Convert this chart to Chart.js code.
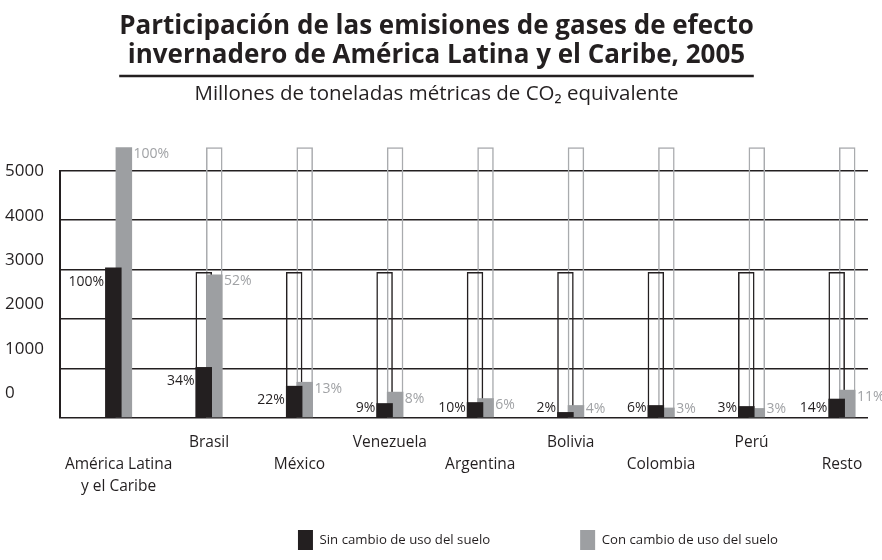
<!DOCTYPE html>
<html lang="es">
<head>
<meta charset="utf-8">
<title>Emisiones de gases de efecto invernadero, 2005</title>
<script src="https://cdn.jsdelivr.net/npm/chart.js@4.4.1/dist/chart.umd.min.js"></script>
<style>
    html, body { margin: 0; padding: 0; background: #fff; }
</style>
</head>
<body>
<canvas id="grafico" width="882" height="560"></canvas>
<script>
// Datos (millones de toneladas métricas de CO2 equivalente)
const paises = [
    ['', 'América Latina', 'y el Caribe'], ['Brasil'], ['', 'México'], ['Venezuela'],
    ['', 'Argentina'], ['Bolivia'], ['', 'Colombia'], ['Perú'], ['', 'Resto']
];
const sinCambio = [3040, 1030, 650, 300, 320, 120, 260, 240, 390];
const conCambio = [5470, 2900, 730, 530, 400, 260, 210, 200, 570];
// barras vacías de referencia (total regional)
const totalSin = [null, 2950, 2950, 2950, 2950, 2950, 2950, 2950, 2950];
const totalCon = [null, 5470, 5470, 5470, 5470, 5470, 5470, 5470, 5470];
const pctSin = ['100%', '34%', '22%', '9%', '10%', '2%', '6%', '3%', '14%'];
const pctCon = ['100%', '52%', '13%', '8%', '6%', '4%', '3%', '3%', '11%'];
const ticksY = [0, 1000, 2000, 3000, 4000, 5000];

const titulo = ['Participación de las emisiones de gases de efecto',
                'invernadero de América Latina y el Caribe, 2005'];
const subtitulo = 'Millones de toneladas métricas de CO\u2082 equivalente';

const NEGRO = '#231f20';
const GRIS = '#9d9fa2';
const GRIS_LINEA = '#a9abae';
const GRIS_TEXTO = '#a0a2a5';
const TAM_TITULO = 26;

Chart.defaults.font.family = "'Open Sans', sans-serif";
Chart.defaults.color = NEGRO;

const puntos = arr => arr.map((v, i) => ({ x: i, y: v }));

// Porcentajes junto a cada barra
const etiquetasPct = {
    id: 'etiquetasPct',
    afterDatasetsDraw(chart) {
        const ctx = chart.ctx;
        const fondo = chart.chartArea.bottom;
        ctx.save();
        ctx.font = "14px 'Open Sans', sans-serif";
        ctx.textBaseline = 'middle';

        ctx.fillStyle = NEGRO;
        ctx.textAlign = 'right';
        chart.getDatasetMeta(0).data.forEach((bar, i) => {
            const y = Math.min(bar.y + 14, fondo - 10);
            ctx.fillText(pctSin[i], bar.x - bar.width / 2 - 1, y);
        });

        ctx.fillStyle = GRIS_TEXTO;
        ctx.textAlign = 'left';
        chart.getDatasetMeta(1).data.forEach((bar, i) => {
            const y = Math.min(bar.y + 7, fondo - 9);
            ctx.fillText(pctCon[i], bar.x + bar.width / 2 + 1.5, y);
        });
        ctx.restore();
    }
};

// Subrayado del título
const subrayado = {
    id: 'subrayado',
    afterDraw(chart) {
        const t = chart.titleBlock;
        const ctx = chart.ctx;
        ctx.save();
        ctx.font = 'bold ' + TAM_TITULO + "px 'Open Sans', sans-serif";
        const ancho = Math.max(...titulo.map(l => ctx.measureText(l).width));
        const cx = (t.left + t.right) / 2;
        const y = t.top + 12 + 2 * 29 + 6;
        ctx.strokeStyle = NEGRO;
        ctx.lineWidth = 2.5;
        ctx.beginPath();
        ctx.moveTo(cx - ancho / 2, y);
        ctx.lineTo(cx + ancho / 2, y);
        ctx.stroke();
        ctx.restore();
    }
};

new Chart(document.getElementById('grafico'), {
    type: 'bar',
    data: {
        datasets: [
            {
                label: 'Sin cambio de uso del suelo',
                data: puntos(sinCambio),
                backgroundColor: NEGRO,
                stack: 'sin'
            },
            {
                label: 'Con cambio de uso del suelo',
                data: puntos(conCambio),
                backgroundColor: GRIS,
                stack: 'con'
            },
            {
                label: 'total sin',
                data: puntos(totalSin),
                backgroundColor: 'rgba(0,0,0,0)',
                borderColor: NEGRO,
                borderWidth: 1.5,
                borderSkipped: false,
                stack: 'sin'
            },
            {
                label: 'total con',
                data: puntos(totalCon),
                backgroundColor: 'rgba(0,0,0,0)',
                borderColor: GRIS_LINEA,
                borderWidth: 1.5,
                borderSkipped: false,
                stack: 'con'
            }
        ]
    },
    options: {
        responsive: false,
        animation: false,
        devicePixelRatio: 1,
        clip: false,
        categoryPercentage: 0.2326,
        barPercentage: 1.57,
        layout: { padding: { left: 5, right: 14, top: 0, bottom: 0 } },
        plugins: {
            title: {
                display: true,
                text: titulo,
                color: NEGRO,
                font: { size: TAM_TITULO, weight: 'bold', lineHeight: 29 / TAM_TITULO },
                padding: { top: 12, bottom: 6 }
            },
            subtitle: {
                display: true,
                text: subtitulo,
                color: NEGRO,
                font: { size: 20.5, weight: 'normal', lineHeight: 1.2 },
                padding: { top: 6, bottom: 64 }
            },
            legend: {
                position: 'bottom',
                align: 'end',
                labels: {
                    boxWidth: 15,
                    boxHeight: 20,
                    padding: 90,
                    color: NEGRO,
                    font: { size: 13.2 },
                    filter: item => item.datasetIndex < 2
                }
            },
            tooltip: { enabled: false }
        },
        scales: {
            x: {
                type: 'linear',
                min: -0.648,
                max: 8.288,
                offset: false,
                grid: { display: false },
                border: { display: false },
                afterBuildTicks: s => { s.ticks = paises.map((p, i) => ({ value: i })); },
                afterFit: s => {
                    // la leyenda ocupa el espacio inferior; las etiquetas se dibujan sin recorte
                    s.height = 22;
                    s._computeLabelArea = () => undefined;
                },
                ticks: {
                    autoSkip: false,
                    maxRotation: 0,
                    padding: 6,
                    color: NEGRO,
                    font: { size: 15.5, lineHeight: 1.42 },
                    callback: v => paises[v]
                }
            },
            y: {
                min: 0,
                max: 5000,
                stacked: false,
                weight: 0,
                afterBuildTicks: s => { s.ticks = ticksY.map(v => ({ value: v })); },
                afterFit: s => { s.width = 0; },
                grid: { color: NEGRO, lineWidth: 1.6, drawTicks: false },
                border: { display: true, color: NEGRO, width: 2 },
                ticks: { display: false }
            },
            // Escala solo para las etiquetas (desplazadas como en el original)
            yl: {
                position: 'left',
                weight: 10,
                min: -560,
                max: 5020,
                afterBuildTicks: s => { s.ticks = ticksY.map(v => ({ value: v })); },
                afterFit: s => { s.width = 55; },
                grid: { display: false, drawTicks: false },
                border: { display: false },
                ticks: {
                    crossAlign: 'far',
                    color: NEGRO,
                    font: { size: 17 },
                    callback: v => String(v)
                }
            }
        }
    },
    plugins: [etiquetasPct, subrayado]
});
</script>
</body>
</html>
